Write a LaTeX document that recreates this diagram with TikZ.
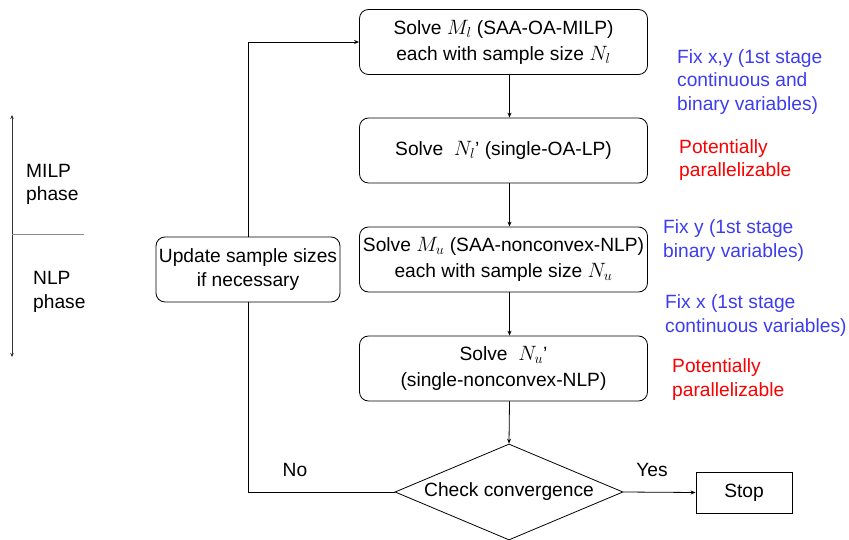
\documentclass[tikz,border=0pt]{standalone}
\usepackage{fontspec}
\setmainfont{Liberation Sans}
\usetikzlibrary{shapes.geometric,arrows.meta}
\definecolor{fixblue}{RGB}{60,60,240}
\definecolor{parred}{RGB}{250,0,0}
\begin{document}
\begin{tikzpicture}[x=1pt,y=-1pt,
  txt/.style={font=\fontsize{19.2}{23.5}\selectfont},
  boxtxt/.style={font=\fontsize{19.2}{26}\selectfont},
  solvebox/.style={draw,rounded corners=9pt,boxtxt,align=center,minimum width=288pt,minimum height=65pt,inner sep=0pt,line width=0.8pt},
  arr/.style={-{Stealth[length=5pt,width=4pt]},line width=0.8pt},
  conn/.style={line width=0.8pt},
  bluelab/.style={txt,text=fixblue,align=left,anchor=west,inner sep=0pt},
  redlab/.style={txt,text=parred,align=left,anchor=west,inner sep=0pt}]
\useasboundingbox (0,0) rectangle (849,540);

% main boxes
\node[solvebox] (b1) at (503.5,42) {Solve $M_l$ (SAA-OA-MILP)\\each with sample size $N_l$};
\node[solvebox] (b2) at (503.5,150.5) {Solve\ \ $N_l$’ (single-OA-LP)};
\node[solvebox] (b3) at (503.5,259.5) {Solve $M_u$ (SAA-nonconvex-NLP)\\each with sample size $N_u$};
\node[solvebox] (b4) at (503.5,368.5) {Solve\ \ $N_u$’\\(single-nonconvex-NLP)};
\node[draw,diamond,aspect=2.375,minimum width=228pt,minimum height=96pt,inner sep=0pt,txt,line width=0.8pt] (d) at (509,492) {Check convergence};
\node[draw,rectangle,minimum width=96pt,minimum height=41pt,inner sep=0pt,txt,line width=0.8pt] (stop) at (744,492.5) {Stop};
\node[draw,rounded corners=9pt,txt,align=center,minimum width=184pt,minimum height=65pt,inner sep=0pt,line width=0.8pt] (upd) at (248,269.5) {Update sample sizes\\if necessary};

% connectors
\draw[arr] ([xshift=6pt]b1.south) -- ([xshift=6pt]b2.north);
\draw[arr] ([xshift=6pt]b2.south) -- ([xshift=6pt]b3.north);
\draw[arr] ([xshift=6pt]b3.south) -- ([xshift=6pt]b4.north);
\draw[arr] ([xshift=6pt]b4.south) -- (d.north);
\draw[arr] (d.east) -- (stop.west);
\draw[conn] (d.west) -| (upd.south);
\draw[arr] (upd.north) |- (b1.west);

\node[txt,inner sep=0pt] (yes) at (652,470) {Yes};
\node[txt,inner sep=0pt] (no) at (295,470) {No};

% right labels
\node[bluelab] (l1) at (677,82) {Fix x,y (1st stage\\continuous and\\binary variables)};
\node[redlab] (l2) at (679,160) {Potentially\\parallelizable};
\node[bluelab] (l3) at (663,240.5) {Fix y (1st stage\\binary variables)};
\node[bluelab] (l4) at (665,315.5) {Fix x (1st stage\\continuous variables)};
\node[redlab] (l5) at (672,379.5) {Potentially\\parallelizable};

% phase indicator
\coordinate (pt) at (12,115);
\coordinate (pb) at (12,357);
\coordinate (pm) at (12,235);
\coordinate (pr) at (84,235);
\draw[{Stealth[length=4pt,width=3.5pt]}-{Stealth[length=4pt,width=3.5pt]},line width=0.6pt,black!80] (pt) -- (pb);
\draw[line width=1pt,black!45] (pm) -- (pr);
\node[txt,align=left,anchor=west,inner sep=0pt] (milp) at (26,184.5) {MILP\\phase};
\node[txt,align=left,anchor=west,inner sep=0pt] (nlp) at (33,292) {NLP\\phase};
\end{tikzpicture}
\end{document}
